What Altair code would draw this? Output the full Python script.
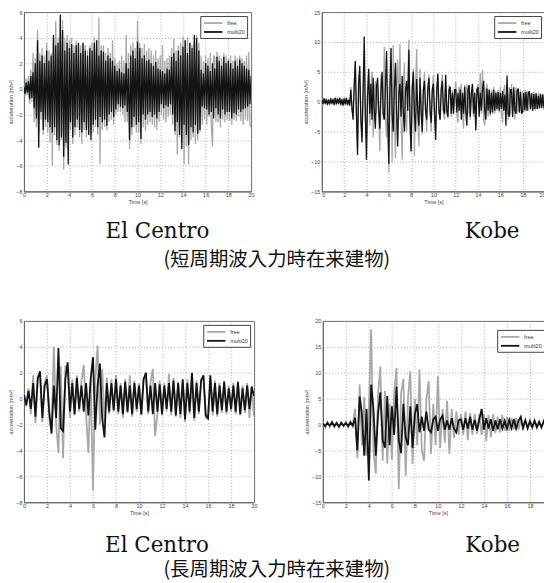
import altair as alt
import pandas as pd

SERIES = ["free", "multi20"]
COLORS = ["#a8a8a8", "#141414"]
XTICKS = [0, 2, 4, 6, 8, 10, 12, 14, 16, 18, 20]
XTICKS_CUT = [0, 2, 4, 6, 8, 10, 12, 14, 16, 18]
TIME_FINE = [round(0.1 * i, 1) for i in range(201)]
TIME_COARSE = [round(0.2 * i, 1) for i in range(101)]

# Panel 1: El Centro (short-period input), sampled every 0.1 s
free1 = [0.3,-0.6,0.8,-0.5,1.0,-1.2,1.5,-1.0,2.8,-2.6,
         2.4,-3.0,4.6,-3.5,2.8,-2.4,3.2,-3.6,2.6,-3.0,
         3.6,-3.4,3.0,-4.2,2.8,-6.0,4.0,-3.6,5.3,-4.4,
         4.0,-4.8,4.6,-4.0,5.4,-6.3,4.0,-4.6,4.2,-4.8,
         3.8,-3.2,4.0,-4.3,3.4,-3.6,3.8,-3.0,3.6,-3.8,
         3.4,-4.3,3.6,-3.2,3.4,-3.8,3.0,-3.6,3.4,-3.6,
         3.6,-3.4,4.0,-3.0,3.8,-3.6,5.6,-5.9,3.4,-3.2,
         3.4,-3.0,2.8,-3.2,3.2,-2.6,2.8,-2.4,3.8,-2.8,
         2.4,-2.0,2.0,-1.8,2.2,-1.8,2.6,-2.0,2.2,-2.6,
         4.2,-2.6,2.8,-4.7,3.4,-3.6,3.6,-3.0,3.2,-3.4,
         5.3,-3.4,3.6,-4.3,3.2,-3.0,3.5,-3.3,3.0,-2.8,
         3.2,-2.6,3.0,-2.8,2.6,-3.0,3.0,-3.2,2.4,-2.6,
         2.6,-2.0,3.4,-2.4,2.2,-2.6,2.4,-2.2,2.6,-2.0,
         3.2,-2.8,3.9,-3.6,3.0,-5.1,3.4,-3.8,3.6,-4.2,
         4.1,-5.9,3.8,-4.5,4.0,-5.9,3.6,-4.0,3.4,-3.8,
         3.6,-4.3,4.2,-4.0,3.6,-3.4,2.6,-2.8,2.2,-2.4,
         2.6,-2.8,2.4,-2.2,2.8,-3.0,-4.5,2.6,2.4,-2.6,
         2.9,-2.6,2.6,-3.0,2.4,-2.4,2.8,-2.6,2.6,-2.4,
         2.4,-2.5,2.6,-2.8,2.2,-2.4,2.6,-2.5,2.4,-2.2,
         2.6,-2.5,2.4,-2.8,2.2,-2.4,2.6,-2.5,2.9,-2.8,
         -3.0]
multi1 = [0.2,-0.4,0.5,-0.3,0.6,-0.8,1.0,-0.7,1.3,-1.5,
          2.0,-2.3,3.8,-4.6,2.2,-1.8,2.6,-3.2,2.0,-2.4,
          3.0,-2.6,2.2,-3.0,2.6,-3.4,4.2,-3.0,3.4,-4.0,
          3.6,-4.4,5.8,-3.8,4.6,-5.3,3.0,-4.2,3.6,-5.9,
          3.2,-2.6,3.5,-3.8,2.8,-3.0,3.4,-2.4,3.6,-3.2,
          2.8,-3.4,3.6,-2.6,3.0,-3.2,2.6,-3.6,3.2,-4.0,
          3.0,-2.8,3.6,-2.4,3.8,-3.0,2.6,-2.2,3.0,-2.6,
          2.9,-2.4,2.2,-2.9,2.6,-2.0,2.4,-1.8,2.2,-2.2,
          1.8,-1.6,1.4,-1.2,1.6,-1.4,1.3,-1.5,1.2,-1.3,
          2.0,-1.8,1.6,-4.0,2.6,-3.0,3.0,-2.2,2.4,-2.8,
          3.7,-2.6,3.2,-3.9,2.4,-2.0,2.6,-2.4,2.2,-2.0,
          2.3,-1.8,2.0,-2.2,1.8,-2.0,2.1,-2.3,1.6,-1.8,
          1.5,-1.2,1.4,-1.5,1.2,-1.3,1.6,-1.4,1.5,-1.2,
          2.5,-2.0,2.8,-3.3,2.2,-2.6,3.0,-3.6,2.6,-4.7,
          3.3,-2.8,3.8,-3.6,2.8,-4.4,3.6,-3.0,3.2,-3.4,
          4.2,-2.8,4.0,-3.5,3.0,-3.2,1.5,-1.4,1.2,-1.5,
          2.0,-1.6,1.8,-2.0,1.4,-1.8,2.0,-2.3,1.6,-1.5,
          2.5,-2.0,2.2,-2.3,1.8,-1.6,2.5,-2.0,2.0,-1.8,
          2.2,-1.8,2.0,-2.3,1.6,-1.9,2.2,-2.0,1.8,-1.6,
          2.3,-1.8,2.0,-1.6,1.8,-1.5,1.6,-1.4,1.5,-1.2,
          1.0]

# Panel 2: Kobe (short-period input), sampled every 0.1 s
free2 = [0.4,-0.6,0.7,-0.5,0.6,-0.7,0.5,-0.6,0.7,-0.5,
         0.6,-0.7,0.8,-0.6,0.7,-0.5,0.8,-0.7,0.6,-0.8,
         0.7,-0.6,0.8,-0.7,0.5,-0.8,2.5,-1.5,-2.0,3.0,
         6.6,-2.5,-8.0,4.5,3.0,-2.5,-6.0,2.5,6.5,-3.0,
         -6.0,2.0,4.8,-4.0,2.5,5.0,-6.0,2.0,3.5,-2.0,
         3.0,-2.5,-8.3,4.5,2.0,-3.0,9.2,-3.0,-6.0,2.5,
         -11.9,3.0,6.0,-10.2,9.5,-3.0,-9.5,3.0,7.0,-3.0,
         9.6,-3.0,-9.7,2.5,6.5,-3.0,-5.0,3.0,10.4,-3.0,
         -8.5,2.5,5.5,-9.1,3.0,8.8,-3.0,-7.5,5.5,-2.0,
         -5.5,2.0,5.0,-2.0,-5.0,2.5,4.5,-2.0,-5.0,2.0,
         4.5,-2.0,-5.0,2.0,4.0,-2.0,-3.0,2.5,4.6,-2.0,
         -3.0,3.5,-1.5,-2.8,2.8,2.0,-2.5,2.0,-2.0,1.5,
         3.4,-2.0,-3.5,2.5,1.5,3.0,-2.0,-4.5,2.8,-2.0,
         3.0,-2.0,2.6,-3.0,1.5,2.2,-2.6,1.5,-4.5,2.0,
         3.0,-2.0,4.8,-2.0,5.3,-3.0,-4.0,2.0,3.0,-2.5,
         2.2,-2.4,2.0,-2.0,2.5,-2.0,1.8,-1.5,2.0,-1.8,
         2.5,-2.0,-3.5,2.0,2.8,-2.0,3.0,-3.0,2.4,-2.2,
         3.0,-2.0,2.0,-3.0,2.4,-2.0,2.2,-1.8,2.0,-2.0,
         1.8,-1.8,2.0,-1.6,1.8,-1.5,1.6,-1.4,1.5,-1.4,
         1.6,-1.5,1.4,-1.3,1.5,-1.2,1.4,-1.2,1.3,-1.4,
         1.0]
multi2 = [0.3,-0.4,0.5,-0.3,0.4,-0.5,0.3,-0.4,0.5,-0.3,
          0.4,-0.5,0.6,-0.4,0.5,-0.3,0.6,-0.5,0.4,-0.6,
          0.5,-0.4,0.6,-0.5,0.3,-0.6,2.0,-1.0,-3.0,2.5,
          6.8,-2.0,-8.9,3.0,6.0,-3.0,-6.8,2.0,10.9,-2.0,
          -9.7,1.0,5.5,-2.0,3.0,-3.0,4.0,-1.5,-4.5,2.5,
          4.0,-1.5,-4.5,2.0,5.0,-2.0,-3.0,2.0,8.5,-2.0,
          -10.4,2.0,9.0,-2.0,-5.0,2.0,6.5,-2.0,-7.5,1.5,
          3.0,-2.5,4.3,-1.5,-5.0,2.0,3.5,-1.5,8.7,-3.0,
          -8.3,2.0,5.0,-2.0,-5.0,3.8,-1.5,-4.0,4.0,-1.5,
          -5.0,2.0,3.5,-1.5,-3.0,2.0,4.0,-1.5,-3.5,2.0,
          3.0,-2.0,-6.4,2.0,4.7,-1.5,-3.0,2.0,3.5,-1.5,
          -2.0,4.5,-1.5,-2.5,2.0,2.5,-2.0,1.5,-2.0,2.0,
          2.0,-1.8,1.5,-1.5,2.0,-3.0,1.5,-2.0,2.5,-1.5,
          -4.0,2.0,2.8,-2.5,1.5,3.0,-2.0,1.5,-4.8,2.0,
          2.4,-2.5,1.5,-1.5,2.0,3.5,-1.5,-3.0,2.2,-1.5,
          2.0,-2.0,1.5,-1.8,2.0,-1.5,1.5,-1.2,1.6,-1.5,
          1.5,-1.2,1.8,-1.5,1.2,-4.0,4.4,-2.0,-2.5,2.0,
          2.0,-2.6,2.4,-1.5,-2.0,1.8,2.2,-1.8,1.6,-2.0,
          -1.6,1.5,-1.4,1.6,-1.5,1.3,1.8,-1.2,1.4,-1.5,
          1.3,-1.2,1.4,-1.2,1.0,-1.1,1.3,-1.0,1.2,-1.0,
          0.5]

# Panel 3: El Centro (long-period input), sampled every 0.2 s
free3 = [0.4,-0.6,0.8,-1.2,1.8,-1.9,1.5,1.8,-1.8,1.2,
         1.8,-1.5,-2.5,4.0,-2.0,-4.2,2.5,-4.6,2.5,2.6,
         -1.5,1.5,-1.3,1.8,-1.0,1.4,2.6,-1.2,-4.2,1.5,
         -7.1,1.5,4.1,-2.0,2.3,-1.8,1.6,-1.2,1.5,-1.0,
         1.8,-1.2,1.2,-1.5,1.5,-1.1,1.8,-1.4,1.4,-1.0,
         1.2,-1.3,1.6,1.8,-1.2,1.3,2.3,-2.9,-1.2,1.4,
         -1.3,1.2,-1.0,1.9,-1.3,1.6,-1.4,1.3,-1.5,1.4,
         -1.8,1.5,-1.2,1.9,-1.7,1.4,-1.2,1.5,1.6,-1.5,
         -1.6,1.5,-1.3,1.4,-1.4,1.2,-1.1,1.4,-1.2,1.0,
         -1.0,1.2,-1.2,1.2,-1.3,1.0,-1.1,1.2,-1.5,1.0,
         -1.4]
multi3 = [0.3,-0.5,0.6,-0.8,1.2,-1.4,1.6,2.1,-1.5,1.0,
          1.5,-1.0,-2.7,1.0,-1.5,3.9,-2.3,-2.5,1.5,2.8,
          -1.0,1.2,-1.2,1.6,-0.8,1.0,-1.0,1.2,-1.3,1.5,
          3.2,-2.4,1.0,2.7,-1.5,-3.0,1.2,-1.0,1.2,-0.9,
          1.5,-1.0,1.0,-1.2,1.3,-1.0,1.0,-1.2,1.2,-0.8,
          1.0,-1.2,1.5,2.0,-1.0,1.0,-1.2,1.2,-1.0,1.1,
          -1.2,1.0,-0.8,1.2,-1.0,1.4,-1.3,1.2,-1.2,1.5,
          -1.6,1.2,-1.0,2.0,-1.5,1.2,-1.0,1.4,1.8,-1.3,
          -1.5,1.8,-1.0,1.2,-1.2,1.0,-0.9,1.3,-1.0,0.8,
          -0.8,1.0,-1.0,1.3,-1.2,0.8,-0.9,1.0,-0.8,0.9,
          0.2]

# Panel 4: Kobe (long-period input), sampled every 0.2 s
free4 = [0.4,-0.6,0.5,-0.5,0.6,-0.5,0.4,-0.6,0.5,-0.4,
         0.5,-0.5,0.6,-0.4,3.0,-6.5,7.7,-4.0,5.3,-6.0,
         3.0,18.4,-5.0,-9.5,6.0,11.2,-7.0,6.5,-7.5,4.0,
         -6.8,6.0,10.9,-12.5,6.0,8.8,-9.9,5.0,10.3,-7.6,
         5.0,-4.0,10.6,-5.0,-7.0,5.0,8.4,-5.7,4.0,-4.0,
         9.3,-4.5,3.0,-3.5,4.6,-5.7,3.0,-2.6,2.5,-2.0,
         2.0,-2.0,2.5,-3.0,2.2,-2.0,2.0,-1.8,2.0,-2.0,
         2.0,-3.2,1.8,-2.5,2.0,-1.6,1.5,-1.5,1.8,-1.2,
         1.5,-1.2,1.3,-1.0,1.2,-1.0,1.0,-1.0,0.9,-0.8,
         0.8,-0.7,0.8,-0.7,0.6,-0.6,0.7,-0.5,0.6,-0.5,
         0.4]
multi4 = [0.2,-0.3,0.3,-0.2,0.4,-0.3,0.3,-0.4,0.3,-0.2,
          0.3,-0.3,0.4,-0.2,1.3,-5.0,5.4,2.0,-6.0,3.0,
          -10.8,7.7,3.0,-6.0,2.0,6.2,-3.0,-4.5,5.5,-4.0,
          3.5,-2.0,7.3,-3.0,-5.5,4.0,-2.5,-4.0,3.5,-4.5,
          2.0,3.9,-1.5,1.5,-1.2,2.5,-1.0,-1.5,1.0,1.5,
          -1.2,1.0,1.7,-1.0,0.8,-1.0,1.2,-0.8,-1.5,0.8,
          1.0,-1.0,1.2,-0.8,1.5,-1.0,0.9,-1.2,1.0,3.0,
          -1.0,1.2,-0.8,1.0,-1.2,0.8,-0.9,1.0,-0.8,0.7,
          -0.8,0.9,-0.7,1.0,-0.8,0.7,1.5,-0.6,0.8,-0.7,
          0.6,-0.5,0.7,-0.5,0.5,-0.5,0.6,-0.4,0.5,-0.3,
          0.3]

YT1 = [-8, -6, -4, -2, 0, 2, 4, 6]
YT2 = [-15, -10, -5, 0, 5, 10, 15]
YT4 = [-15, -10, -5, 0, 5, 10, 15, 20]

AX_FONT = "Liberation Sans"


def panel(time, free, multi, ydom, yticks, xticks, w, h, caption, dx, toff, sw, flush, loff):
    df = pd.DataFrame({
        "t": time + time,
        "a": free + multi,
        "series": [SERIES[0]] * len(time) + [SERIES[1]] * len(time),
    })
    color = alt.Color(
        "series:N",
        scale=alt.Scale(domain=SERIES, range=COLORS),
        legend=alt.Legend(
            title=None, orient="top-right", offset=loff, fillColor="white",
            strokeColor="#444", padding=2, labelFontSize=5.5, labelFont=AX_FONT,
            labelColor="#333", symbolType="M-2.5,0H2.5", symbolStrokeWidth=1.8,
            symbolSize=55, symbolOffset=6, rowPadding=0, labelOffset=9,
            cornerRadius=0,
        ),
    )
    x = alt.X("t:Q", scale=alt.Scale(domain=[0, 20], nice=False, zero=False),
              axis=alt.Axis(values=xticks, title="Time [s]", labelFlush=flush))
    y = alt.Y("a:Q", scale=alt.Scale(domain=ydom, nice=False, zero=False),
              axis=alt.Axis(values=yticks, title="acceleration [m/s²]"))
    base = alt.Chart(df).mark_line(strokeWidth=sw, clip=True).encode(x=x, y=y, color=color)
    return alt.layer(
        base.transform_filter(alt.datum.series == "free"),
        base.transform_filter(alt.datum.series == "multi20"),
    ).properties(
        width=w, height=h,
        title=alt.TitleParams(caption, orient="bottom", anchor="middle", frame="group",
                              dx=dx, offset=toff, font="DejaVu Serif", fontSize=21.5,
                              fontWeight="normal", color="#111", baseline="top"),
    )


p1 = panel(TIME_FINE, free1, multi1, [-8, 6], YT1, XTICKS, 228, 180, "El Centro", 20, 16, 1.3, False, 4)
p2 = panel(TIME_FINE, free2, multi2, [-15, 15], YT2, XTICKS, 224, 180, "Kobe", 59, 16, 1.3, True, 4)
p3 = panel(TIME_COARSE, free3, multi3, [-8, 6], YT1, XTICKS, 231, 182, "El Centro", 18, 19, 1.8, False, 4)
p4 = panel(TIME_COARSE, free4, multi4, [-15, 20], YT4, XTICKS_CUT, 231, 182, "Kobe", 55, 19, 1.8, False, 9)


def row(a, b, text, sp, off, dx):
    return alt.hconcat(
        a, b, spacing=sp,
        title=alt.TitleParams(text, orient="bottom", anchor="middle", dx=dx,
                              offset=off, font="Noto Sans CJK JP", fontSize=19.5,
                              fontWeight="normal", color="#111", baseline="top"),
    ).resolve_scale(x="independent", y="independent", color="independent").resolve_legend(color="independent")


r1 = row(p1, p2, "(短周期波入力時在来建物)", 48, 8, 0)
r2 = row(p3, p4, "(長周期波入力時在来建物)", 46, 4, -4)

chart = alt.vconcat(r1, r2, spacing=48).properties(
    padding={"top": 0, "left": 0, "right": -10, "bottom": 0}
).configure_view(
    stroke="#666", strokeWidth=1
).configure_axis(
    labelFont=AX_FONT, labelFontSize=5.5, labelColor="#444",
    labelFlush=False, titleFont=AX_FONT, titleFontSize=5.5, titleColor="#444",
    titleFontWeight="normal", ticks=False, domainColor="#666",
    grid=True, gridColor="#9a9a9a", gridDash=[1, 2], gridWidth=0.8,
).configure_axisX(
    labelPadding=1, titlePadding=2
).configure_axisY(
    labelPadding=2, titlePadding=2
)

chart.save("out.html", embed_options={"renderer": "svg", "actions": False})
